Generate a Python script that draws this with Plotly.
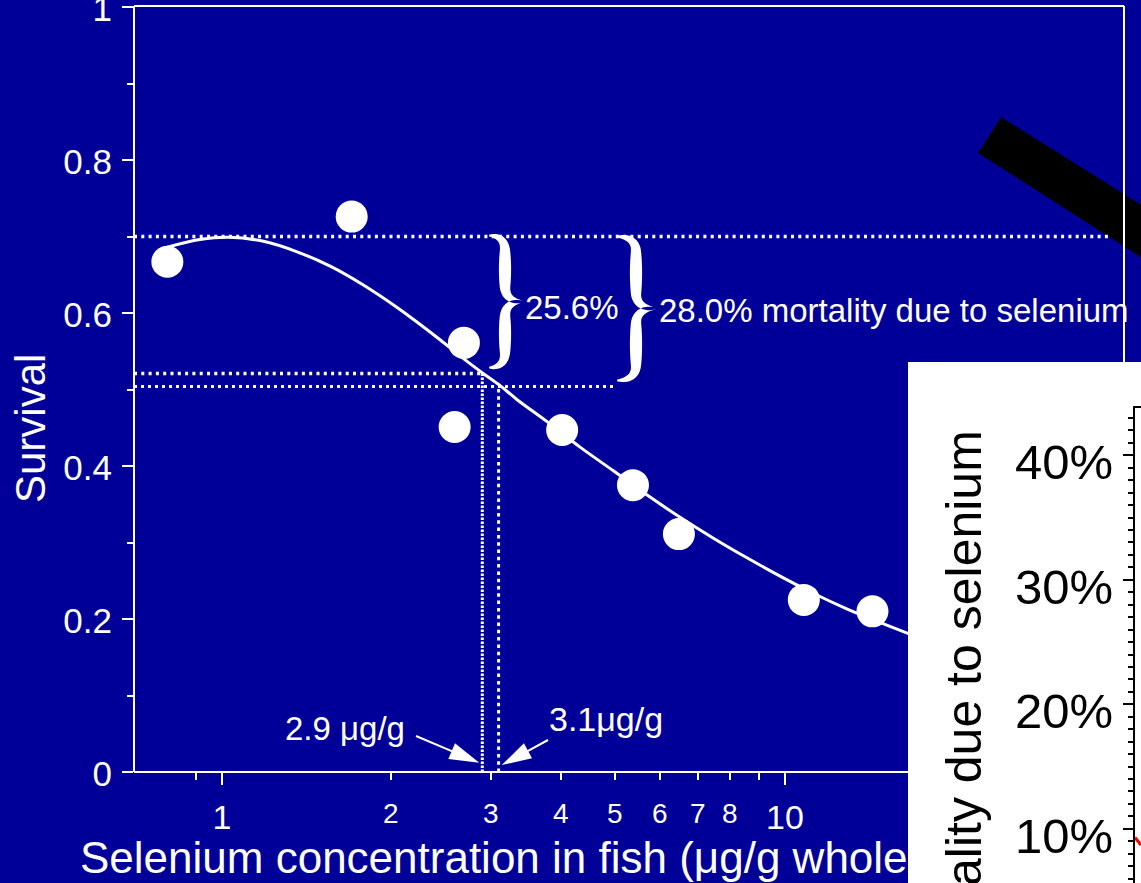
import math
import plotly.graph_objects as go

W, H = 1141, 883
NAVY = "#000099"
FONT = "Arial, 'Liberation Sans', sans-serif"

# ---- data -------------------------------------------------------------
# observed larval survival vs. whole-body selenium (ug/g)
se_conc = [0.80, 1.70, 2.69, 2.59, 4.02, 5.37, 6.48, 10.8, 14.3]
survival = [0.667, 0.726, 0.561, 0.451, 0.447, 0.375, 0.311, 0.225, 0.210]

# fitted dose-response curve
fit_conc = [0.80, 0.914, 1.03, 1.18, 1.36, 1.56, 1.78, 2.05, 2.25, 2.44, 2.70,
            2.91, 3.12, 3.34, 3.78, 4.32, 4.95, 5.69, 6.51, 7.45, 8.56, 9.80,
            11.2, 12.9, 14.7, 16.7]
fit_surv = [0.686, 0.696, 0.699, 0.694, 0.680, 0.661, 0.637, 0.607, 0.585,
            0.565, 0.539, 0.521, 0.505, 0.487, 0.458, 0.425, 0.394, 0.362,
            0.333, 0.306, 0.280, 0.256, 0.234, 0.213, 0.196, 0.180]

control_survival = 0.70
mortality_a = 0.256      # extra mortality at conc_a
mortality_b = 0.280      # extra mortality at conc_b
conc_a = 2.9
conc_b = 3.1

x_major_ticks = [1, 10]
x_major_text = ["1", "10"]
x_minor_ticks = [0.9, 2, 3, 4, 5, 6, 7, 8, 9]
x_small_labels = [2, 3, 4, 5, 6, 7, 8]
y_ticks = [0, 0.2, 0.4, 0.6, 0.8, 1.0]
y_tick_text = ["0", "0.2", "0.4", "0.6", "0.8", "1"]
y_minor_ticks = [0.1, 0.3, 0.5, 0.7, 0.9]

# inset: mortality due to selenium
inset_ticks = [0.1, 0.2, 0.3, 0.4]
inset_tick_text = ["10%", "20%", "30%", "40%"]
inset_minor = [round(0.05 + 0.01 * i, 2) for i in range(1, 39)]
inset_minor = [v for v in inset_minor if round(v * 10, 6) % 1 != 0]
inset_x = [0.0, 1.0]
inset_y = [0.093, 0.087]

# ---- geometry of the main plotting area (pixels) ------------------------
PL, PR, PT, PB = 134, 1124, 7, 772
X_LO, X_HI = 0.698, 40.0
LX0, LX1 = math.log10(X_LO), math.log10(X_HI)


def xpx(c):
    return PL + (math.log10(c) - LX0) / (LX1 - LX0) * (PR - PL)


def ypx(v):
    return PB - v * (PB - PT)


def P(x, y):
    return x / W, 1 - y / H


def path_str(pts, close=True):
    s = ""
    for i, (x, y) in enumerate(pts):
        px, py = P(x, y)
        s += ("M" if i == 0 else "L") + f"{px:.5f},{py:.5f} "
    return s + ("Z" if close else "")


level_a = control_survival * (1 - mortality_a)
level_b = control_survival * (1 - mortality_b)

fig = go.Figure()

# fitted curve and observations
fig.add_trace(go.Scatter(x=fit_conc, y=fit_surv, mode="lines",
                         line=dict(color="white", width=3, shape="spline", smoothing=1.0),
                         hoverinfo="skip"))
fig.add_trace(go.Scatter(x=se_conc, y=survival, mode="markers",
                         marker=dict(color="white", size=32, line=dict(width=0))))

# reference levels
round_dots = dict(color="white", width=3.5, dash="3px,4.3px")
fig.add_trace(go.Scatter(x=[X_LO, 38], y=[control_survival] * 2, mode="lines", line=round_dots))
fig.add_trace(go.Scatter(x=[X_LO, conc_a], y=[level_a] * 2, mode="lines", line=round_dots))
fig.add_trace(go.Scatter(x=[X_LO, 5.0], y=[level_b] * 2, mode="lines",
                         line=dict(color="white", width=3, dash="3px,4px")))
fig.add_trace(go.Scatter(x=[conc_a] * 2, y=[0, level_a], mode="lines",
                         line=dict(color="white", width=3, dash="2.5px,1.5px")))
fig.add_trace(go.Scatter(x=[conc_b] * 2, y=[0, level_b], mode="lines",
                         line=dict(color="white", width=3, dash="3.5px,3.8px")))

# inset curve
fig.add_trace(go.Scatter(x=inset_x, y=inset_y, mode="lines", xaxis="x2", yaxis="y2",
                         line=dict(color="red", width=3)))

shapes = []

# heavy black pointer
shapes.append(dict(type="path", xref="paper", yref="paper", layer="below",
                   path=path_str([(1001, 117), (1175, 226), (1175, 279), (978, 153)]),
                   fillcolor="black", line=dict(width=0)))

# frame of the main plot
for (x0, y0, x1, y1) in [(PL, PT - 1, PL, PB), (PL, PT - 1, PR, PT - 1),
                         (PR, PT - 1, PR, PB), (PL, PB, PR, PB)]:
    a0, b0 = P(x0, y0)
    a1, b1 = P(x1, y1)
    shapes.append(dict(type="line", xref="paper", yref="paper", layer="below",
                       x0=a0, y0=b0, x1=a1, y1=b1, line=dict(color="white", width=2)))

# white inset panel
a0, b0 = P(908, 362)
shapes.append(dict(type="rect", xref="paper", yref="paper", layer="below",
                   x0=a0, y0=b0, x1=1.02, y1=-0.02, fillcolor="white", line=dict(width=0)))


# curly braces
def quad(p0, c, p1, n=14):
    out = []
    for i in range(n + 1):
        t = i / n
        out.append(((1 - t) ** 2 * p0[0] + 2 * (1 - t) * t * c[0] + t ** 2 * p1[0],
                    (1 - t) ** 2 * p0[1] + 2 * (1 - t) * t * c[1] + t ** 2 * p1[1]))
    return out


def brace_arm(x_end, x_stem, x_tip, y_end, y_tip, bend=16, wmax=5.4):
    s = 1 if y_tip > y_end else -1
    ya, yb = y_end + s * bend, y_tip - s * bend
    pts = quad((x_end, y_end), (x_stem, y_end), (x_stem, ya))
    pts += [(x_stem, ya + (yb - ya) * k / 10) for k in range(1, 10)]
    pts += quad((x_stem, yb), (x_stem, y_tip), (x_tip, y_tip))
    cum = [0.0]
    for i in range(1, len(pts)):
        cum.append(cum[-1] + math.dist(pts[i], pts[i - 1]))
    left, right = [], []
    for i, p in enumerate(pts):
        q0 = pts[max(i - 1, 0)]
        q1 = pts[min(i + 1, len(pts) - 1)]
        dx, dy = q1[0] - q0[0], q1[1] - q0[1]
        d = math.hypot(dx, dy) or 1
        nx, ny = -dy / d, dx / d
        u = cum[i] / cum[-1]
        w = 0.7 + wmax * math.sin(math.pi * u) ** 0.8
        left.append((p[0] + nx * w, p[1] + ny * w))
        right.append((p[0] - nx * w, p[1] - ny * w))
    return left + right[::-1]


def brace(x_end, x_stem, x_tip, y_top, y_bot):
    y_mid = (y_top + y_bot) / 2
    p = path_str(brace_arm(x_end, x_stem, x_tip, y_top, y_mid))
    p += " " + path_str(brace_arm(x_end, x_stem, x_tip, y_bot, y_mid))
    return dict(type="path", xref="paper", yref="paper", layer="above", path=p,
                fillcolor="white", line=dict(width=0))


shapes.append(brace(489, 505, 523, ypx(control_survival) - 1, ypx(level_a) - 6))
shapes.append(brace(617, 636, 656, ypx(control_survival), ypx(level_b) - 6))


# arrows to the two threshold concentrations
def arrow(tail, tip, head_len=30, head_half=8.5):
    dx, dy = tip[0] - tail[0], tip[1] - tail[1]
    L = math.hypot(dx, dy)
    ux, uy = dx / L, dy / L
    bx, by = tip[0] - ux * head_len, tip[1] - uy * head_len
    nx, ny = -uy, ux
    a0, b0 = P(*tail)
    a1, b1 = P(bx + ux * 2, by + uy * 2)
    return [dict(type="line", xref="paper", yref="paper", layer="above",
                 x0=a0, y0=b0, x1=a1, y1=b1, line=dict(color="white", width=2)),
            dict(type="path", xref="paper", yref="paper", layer="above",
                 path=path_str([tip, (bx + nx * head_half, by + ny * head_half),
                                (bx - nx * head_half, by - ny * head_half)]),
                 fillcolor="white", line=dict(width=0))]


shapes += arrow((416, 736), (xpx(conc_a) - 3, ypx(0.012)))
shapes += arrow((548, 740), (xpx(conc_b) + 3, ypx(0.009)))

annotations = []


def text(x, y, s, size, color="white", xanchor="left", yanchor="middle", angle=0):
    px, py = P(x, y)
    annotations.append(dict(x=px, y=py, xref="paper", yref="paper", text=s, showarrow=False,
                            xanchor=xanchor, yanchor=yanchor, textangle=angle,
                            font=dict(family=FONT, size=size, color=color)))


text(30, 429, "Survival", 42, xanchor="center", angle=-90)
text(78, 857, "Selenium concentration in fish (μg/g whole", 44)
text(523, 307, f"{mortality_a * 100:.1f}%", 33)
text(657, 310, f"{mortality_b * 100:.1f}% mortality due to selenium", 33)
text(283, 728, f"{conc_a} μg/g", 33)
text(547, 719, f"{conc_b}μg/g", 34)
text(964, 428, "Mortality due to selenium", 50, color="black", xanchor="center",
     yanchor="top", angle=-90)
for v in x_small_labels:
    annotations.append(dict(x=math.log10(v), y=P(0, 813)[1], xref="x", yref="paper",
                            text=str(v), showarrow=False, xanchor="center", yanchor="middle",
                            font=dict(family=FONT, size=28, color="white")))

fig.update_layout(
    template="none",
    width=W, height=H, autosize=False,
    margin=dict(l=0, r=0, t=0, b=0, pad=0),
    paper_bgcolor=NAVY, plot_bgcolor="rgba(0,0,0,0)",
    showlegend=False,
    font=dict(family=FONT, color="white"),
    shapes=shapes, annotations=annotations,
    xaxis=dict(type="log", range=[LX0, LX1], domain=[PL / W, PR / W], anchor="y",
               showgrid=False, zeroline=False, showline=False, automargin=False,
               ticks="outside", tickmode="array", tickvals=x_major_ticks, ticktext=x_major_text,
               ticklen=12, tickwidth=2, tickcolor="white",
               tickfont=dict(family=FONT, size=34, color="white"), ticklabelstandoff=3,
               minor=dict(tickmode="array", tickvals=x_minor_ticks, ticks="outside",
                          ticklen=7, tickwidth=2, tickcolor="white", showgrid=False)),
    yaxis=dict(range=[0, 1], domain=[1 - PB / H, 1 - PT / H], anchor="x",
               showgrid=False, zeroline=False, showline=False, automargin=False,
               ticks="outside", tickmode="array", tickvals=y_ticks, ticktext=y_tick_text,
               ticklen=11, tickwidth=2, tickcolor="white",
               tickfont=dict(family=FONT, size=35, color="white"),
               ticklabelstandoff=3, ticklabelshift=2, ticklabeloverflow="allow",
               minor=dict(tickmode="array", tickvals=y_minor_ticks, ticks="outside",
                          ticklen=6, tickwidth=2, tickcolor="white", showgrid=False)),
    xaxis2=dict(domain=[1135 / W, 1], anchor="y2", range=[0, 1], side="top",
                showline=True, linecolor="black", linewidth=2, showgrid=False,
                zeroline=False, showticklabels=False, ticks="", automargin=False),
    yaxis2=dict(domain=[0, 1 - 408 / H], anchor="x2", range=[0.0565, 0.438],
                showline=True, linecolor="black", linewidth=2, showgrid=False,
                zeroline=False, automargin=False,
                ticks="outside", tickmode="array", tickvals=inset_ticks,
                ticktext=inset_tick_text, ticklen=10, tickwidth=2, tickcolor="black",
                tickfont=dict(family=FONT, size=49, color="black"),
                ticklabelstandoff=0, ticklabelshift=7, ticklabeloverflow="allow",
                minor=dict(tickmode="array", tickvals=inset_minor, ticks="outside",
                           ticklen=5, tickwidth=1.5, tickcolor="black", showgrid=False)),
)

fig.write_html("out.html")
